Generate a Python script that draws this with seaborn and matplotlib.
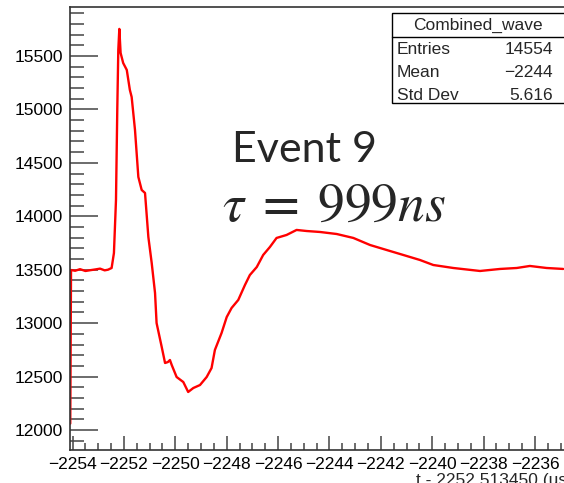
import matplotlib
matplotlib.use("Agg")
import matplotlib.pyplot as plt
import seaborn as sns
import pandas as pd
from matplotlib.patches import Rectangle
from matplotlib.lines import Line2D
from matplotlib.ticker import MultipleLocator

# Combined waveform samples: time offset (us) and ADC value
t_us = [-2254.09, -2254.06, -2253.90, -2253.71, -2253.50, -2253.32, -2253.10,
        -2252.93, -2252.75, -2252.62, -2252.48, -2252.39, -2252.31, -2252.26,
        -2252.22, -2252.18, -2252.13, -2252.03, -2251.89, -2251.77, -2251.70,
        -2251.57, -2251.44, -2251.31, -2251.18, -2251.05, -2250.92, -2250.79,
        -2250.73, -2250.53, -2250.40, -2250.29, -2250.21, -2250.14, -2249.95,
        -2249.69, -2249.50, -2249.30, -2249.04, -2248.78, -2248.59, -2248.46,
        -2248.20, -2248.00, -2247.81, -2247.55, -2247.29, -2247.10, -2246.83,
        -2246.58, -2246.32, -2246.06, -2245.67, -2245.28, -2244.89, -2244.37,
        -2243.72, -2243.07, -2242.42, -2241.77, -2241.13, -2240.48, -2239.96,
        -2239.18, -2238.14, -2237.36, -2236.71, -2236.20, -2235.55, -2234.90]
adc = [12060, 13497, 13490, 13505, 13488, 13495, 13503,
       13510, 13494, 13500, 13516, 13656, 14152, 14995,
       15556, 15753, 15528, 15434, 15369, 15182, 15116,
       14807, 14368, 14246, 14218, 13806, 13563, 13282,
       13001, 12777, 12627, 12636, 12655, 12608, 12496,
       12449, 12356, 12393, 12421, 12496, 12580, 12749,
       12908, 13057, 13142, 13217, 13357, 13450, 13525,
       13638, 13712, 13797, 13825, 13872, 13862, 13853,
       13834, 13797, 13731, 13684, 13638, 13591, 13544,
       13516, 13488, 13507, 13516, 13535, 13516, 13507]

hist_name = "Combined_wave"
stat_labels = ["Entries", "Mean", "Std Dev"]
stat_values = ["14554", "\u22122244", "5.616"]
x_title = "t - 2252.513450 (us)"

sns.set_style("ticks")
plt.rcParams['font.family'] = ['Liberation Sans', 'DejaVu Sans']
plt.rcParams['mathtext.fontset'] = 'stix'

W, H = 564, 483
fig = plt.figure(figsize=(W / 100, H / 100), dpi=100)
ax = fig.add_axes([70 / W, (H - 450) / H, 502 / W, 443 / H])

df = pd.DataFrame({"t": t_us, "adc": adc})
sns.lineplot(data=df, x="t", y="adc", ax=ax, color="red", lw=1.7,
             sort=False, estimator=None)

ax.set_xlim(-2254.10, -2234.56)
ax.set_ylim(11813, 15958)
ax.set_xlabel("")
ax.set_ylabel("")

ax.xaxis.set_major_locator(MultipleLocator(2))
ax.xaxis.set_minor_locator(MultipleLocator(0.5))
ax.yaxis.set_major_locator(MultipleLocator(500))
ax.yaxis.set_minor_locator(MultipleLocator(100))

ax.tick_params(axis="both", which="both", direction="in", colors="#444444",
               labelcolor="black", labelsize=12.5, width=1.1)
ax.tick_params(axis="y", which="major", length=20, pad=5)
ax.tick_params(axis="y", which="minor", length=10)
ax.tick_params(axis="x", which="major", length=10, pad=5)
ax.tick_params(axis="x", which="minor", length=5)

for side in ["left", "bottom", "top", "right"]:
    ax.spines[side].set_color("#333333")
    ax.spines[side].set_linewidth(1.2)

# Axis title, right-aligned at the frame's far end
fig.text(573 / W, (H - 481) / H, x_title, ha="right", va="center",
         fontsize=12.5)

# Annotation text
fig.text(232 / W, (H - 150) / H, "Event 9", family="Lato", fontsize=31,
         ha="left", va="center")
fig.text(222 / W, (H - 207) / H, r"$\tau\;=\;999ns$", fontsize=38.5,
         ha="left", va="center")

# Statistics box
bx0, bx1, by0, by1, bsep = 392, 572, 13, 103, 37
fig.add_artist(Rectangle((bx0 / W, (H - by1) / H), (bx1 - bx0) / W,
                         (by1 - by0) / H, transform=fig.transFigure,
                         facecolor="white", edgecolor="black", lw=1.0))
fig.add_artist(Line2D([bx0 / W, bx1 / W], [(H - bsep) / H] * 2,
                      transform=fig.transFigure, color="black", lw=1.0))
fig.text(478 / W, (H - 25) / H, hist_name, ha="center", va="center",
         fontsize=12.5)
for i, (lab, val) in enumerate(zip(stat_labels, stat_values)):
    yy = (H - (50 + 22.5 * i)) / H
    fig.text(397 / W, yy, lab, ha="left", va="center", fontsize=12.5)
    fig.text(553 / W, yy, val, ha="right", va="center", fontsize=12.5)

fig.savefig("out.png", dpi=100)
